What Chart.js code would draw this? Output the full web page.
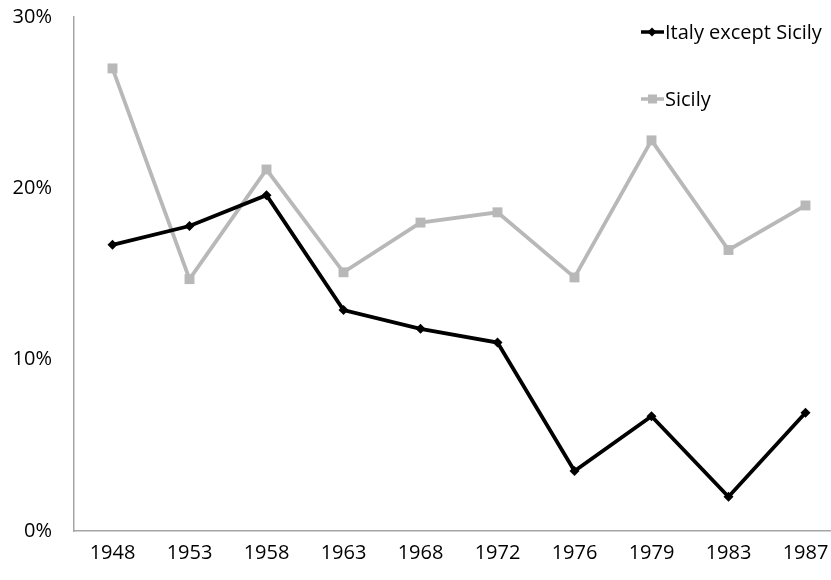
<!DOCTYPE html>
<html>
<head>
<meta charset="utf-8">
<script src="https://cdn.jsdelivr.net/npm/chart.js@4/dist/chart.umd.min.js"></script>
<style>
  html, body { margin: 0; padding: 0; background: #fff; overflow: hidden; }
  #wrap { width: 860px; height: 580px; }
</style>
</head>
<body>
<div id="wrap"><canvas id="turnout-chart" width="860" height="580"></canvas></div>
<script>
var years = ["1948", "1953", "1958", "1963", "1968", "1972", "1976", "1979", "1983", "1987"];
var italyValues = [16.7, 17.8, 19.6, 12.9, 11.8, 11.0, 3.5, 6.7, 2.0, 6.9];
var sicilyValues = [27.0, 14.7, 21.1, 15.1, 18.0, 18.6, 14.8, 22.8, 16.4, 19.0];
var yTicks = [0, 10, 20, 30];
var italyColor = "#000000";
var sicilyColor = "#b8b8b8";
var fontFamily = "'Open Sans', 'Noto Sans', sans-serif";

// legend sits inside the plot area, top right, like the original
var insideLegend = {
  id: "insideLegend",
  afterDraw: function (chart) {
    var ctx = chart.ctx;
    var rows = [
      { ds: chart.data.datasets[0], y: 32 },
      { ds: chart.data.datasets[1], y: 99 },
    ];
    ctx.save();
    ctx.font = "20px " + fontFamily;
    ctx.textBaseline = "middle";
    rows.forEach(function (r) {
      ctx.strokeStyle = r.ds.borderColor;
      ctx.lineWidth = 3.5;
      ctx.beginPath();
      ctx.moveTo(641, r.y);
      ctx.lineTo(664, r.y);
      ctx.stroke();
      ctx.fillStyle = r.ds.borderColor;
      ctx.beginPath();
      if (r.ds.pointStyle === "rectRot") {
        ctx.moveTo(652, r.y - 4.5);
        ctx.lineTo(656.5, r.y);
        ctx.lineTo(652, r.y + 4.5);
        ctx.lineTo(647.5, r.y);
      } else {
        ctx.rect(648, r.y - 4.5, 9, 9);
      }
      ctx.fill();
      ctx.fillStyle = "#000";
      ctx.fillText(r.ds.label, 665, r.y + 1);
    });
    ctx.restore();
  },
};

new Chart("turnout-chart", {
  type: "line",
  data: {
    labels: years,
    datasets: [
      {
        label: "Italy except Sicily",
        data: italyValues,
        borderColor: italyColor,
        backgroundColor: italyColor,
        borderWidth: 3.8,
        pointStyle: "rectRot",
        pointRadius: 5,
        pointBorderWidth: 0,
        tension: 0,
      },
      {
        label: "Sicily",
        data: sicilyValues,
        borderColor: sicilyColor,
        backgroundColor: sicilyColor,
        borderWidth: 3.8,
        pointStyle: "rect",
        pointRadius: 7,
        pointBorderWidth: 0,
        tension: 0,
      },
    ],
  },
  options: {
    responsive: false,
    animation: false,
    layout: { padding: { top: 17, right: 16, left: 0, bottom: 0 } },
    plugins: {
      legend: { display: false },
      tooltip: { enabled: false },
    },
    scales: {
      x: {
        offset: true,
        grid: { display: false, drawTicks: false },
        border: { color: "#a6a6a6", width: 1.5 },
        ticks: { color: "#000", padding: 10, font: { family: fontFamily, size: 20 } },
        afterFit: function (s) { s.height = 49; },
      },
      y: {
        min: 0,
        max: 30,
        afterBuildTicks: function (s) { s.ticks = yTicks.map(function (v) { return { value: v }; }); },
        grid: { display: false, drawTicks: false },
        border: { color: "#a6a6a6", width: 1.5 },
        ticks: {
          color: "#000",
          padding: 22,
          font: { family: fontFamily, size: 20 },
          callback: function (v) { return v + "%"; },
        },
        afterFit: function (s) {
          s.width = 74;
          s.paddingTop = 0;
          s.paddingBottom = 0;
        },
      },
    },
  },
  plugins: [insideLegend],
});
</script>
</body>
</html>
